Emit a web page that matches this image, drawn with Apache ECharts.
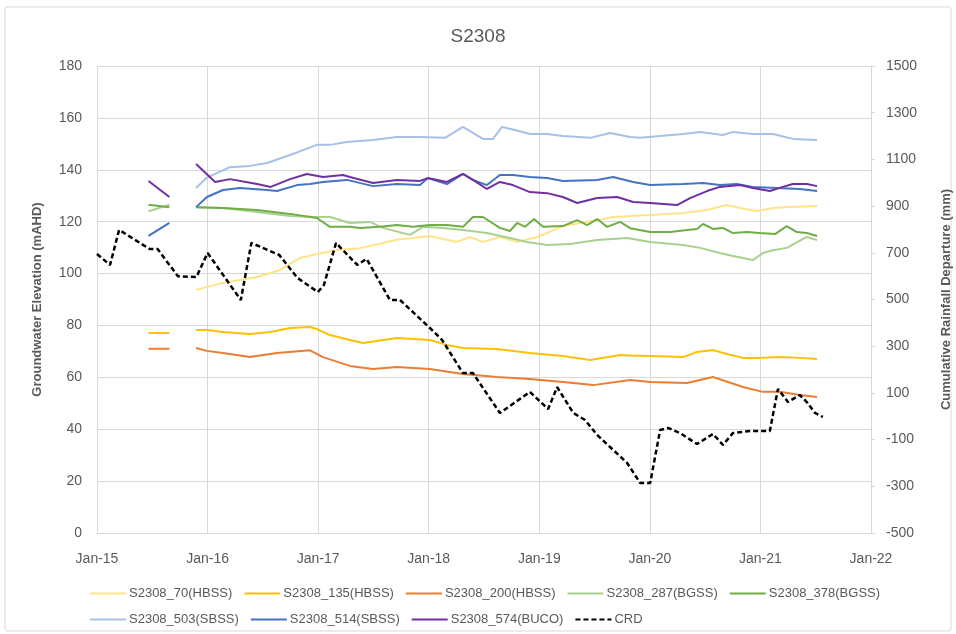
<!DOCTYPE html>
<html><head><meta charset="utf-8">
<script src="https://cdn.jsdelivr.net/npm/echarts@6/dist/echarts.min.js"></script>
<style>html,body{margin:0;padding:0;background:#fff}#c{width:956px;height:634px}</style>
</head><body><div id="c"></div>
<script>
// ---- data ----
const title = 'S2308';
const xTickYears = [2015, 2016, 2017, 2018, 2019, 2020, 2021, 2022];

const s70Dates = ['2015-11-24','2016-02-21','2016-06-13','2016-08-28','2016-11-02','2016-12-28','2017-03-04','2017-05-19','2017-07-24','2017-09-18','2018-01-05','2018-04-04','2018-05-17','2018-06-29','2018-08-24','2018-10-20','2018-12-25','2019-03-20','2019-07-11','2019-09-02','2020-01-02','2020-04-20','2020-07-08','2020-09-12','2020-10-25','2020-12-20','2021-02-11','2021-04-08','2021-07-07'];
const s70Vals = [93.7,96.4,98.7,101.4,106,107.5,109.1,109.8,111.5,113,114.5,112.2,114.1,112.2,114.1,112.2,114.1,118.3,120.6,121.8,122.6,123.3,124.5,126.4,125.3,124.1,125.3,125.7,126];

const s135Dates = ['2015-06-20','2015-08-28','2015-10-15','2015-11-24','2015-12-30','2016-02-21','2016-05-20','2016-07-28','2016-09-30','2016-12-05','2016-12-28','2017-02-09','2017-04-16','2017-05-29','2017-09-18','2018-01-05','2018-03-02','2018-04-24','2018-08-14','2018-12-01','2019-03-20','2019-06-18','2019-09-25','2019-10-28','2020-01-02','2020-04-20','2020-06-05','2020-07-28','2020-09-12','2020-11-04','2020-12-30','2021-03-06','2021-05-11','2021-07-07'];
const s135Vals = [77.1,77.1,null,78.2,78.2,77.5,76.7,77.5,79,79.4,78.6,76.3,74.4,73.2,75.2,74.4,72.5,71.3,70.9,69.4,68.2,66.7,68.6,68.4,68.2,67.8,69.8,70.5,69,67.5,67.5,67.8,67.5,67.1];

const s200Dates = ['2015-06-20','2015-08-28','2015-10-15','2015-11-24','2015-12-30','2016-02-21','2016-05-20','2016-08-18','2016-12-05','2017-01-17','2017-04-16','2017-07-01','2017-09-18','2018-01-05','2018-04-24','2018-08-14','2018-12-01','2019-03-20','2019-06-28','2019-10-28','2020-01-02','2020-05-03','2020-07-28','2020-11-04','2021-01-09','2021-03-06','2021-05-11','2021-07-07'];
const s200Vals = [71,71,null,71.3,70.2,69.4,67.8,69.4,70.4,67.8,64.4,63.2,64,63.2,61.3,60.1,59.4,58.2,57,59,58.2,57.8,60.1,56.3,54.4,54.4,53.2,52.4];

const s287Dates = ['2015-06-20','2015-08-28','2015-10-15','2015-11-24','2016-02-21','2016-06-13','2016-09-30','2016-12-28','2017-02-09','2017-04-16','2017-06-21','2017-08-03','2017-10-31','2017-12-13','2018-02-17','2018-04-24','2018-07-12','2018-09-26','2018-11-22','2019-01-27','2019-04-13','2019-07-11','2019-10-18','2020-01-02','2020-04-20','2020-06-15','2020-08-20','2020-10-02','2020-12-07','2021-01-09','2021-02-11','2021-03-29','2021-06-03','2021-07-07'];
const s287Vals = [124,126.5,null,125.6,125.3,123.7,122.2,121.8,121.8,119.5,119.9,117.6,114.9,118,117.6,116.8,115.6,113.7,112.2,111,111.4,112.9,113.7,112.2,111,109.9,107.9,106.8,105.2,107.9,109,109.9,114.1,112.9];

const s378Dates = ['2015-06-20','2015-08-28','2015-10-15','2015-11-24','2016-02-21','2016-06-13','2016-09-30','2016-12-28','2017-02-09','2017-04-16','2017-05-19','2017-07-24','2017-09-18','2017-11-10','2018-01-05','2018-03-02','2018-04-24','2018-05-27','2018-06-29','2018-08-24','2018-09-26','2018-10-20','2018-11-15','2018-12-15','2019-01-13','2019-03-20','2019-05-06','2019-06-08','2019-07-11','2019-08-13','2019-09-25','2019-10-28','2020-01-02','2020-03-08','2020-05-03','2020-06-05','2020-06-25','2020-07-28','2020-08-30','2020-10-02','2020-11-17','2020-12-30','2021-02-18','2021-03-29','2021-05-01','2021-06-03','2021-07-07'];
const s378Vals = [126.5,125.6,null,125.6,125.3,124.5,123,121.4,118,118,117.6,118,118.7,118,118.7,118.7,118,121.8,121.8,117.6,116.4,119.5,118,121,118,118.3,120.6,118.7,121,118,119.9,117.5,116,116,116.8,117.2,119.1,117.2,117.6,115.6,116,115.6,115.2,118.3,116,115.6,114.5];

const s503Dates = ['2015-11-24','2015-12-30','2016-03-15','2016-05-20','2016-07-16','2016-09-30','2016-12-28','2017-02-09','2017-04-06','2017-07-01','2017-09-18','2017-12-03','2018-02-24','2018-04-24','2018-06-29','2018-08-01','2018-08-31','2018-10-13','2018-12-01','2019-01-27','2019-03-20','2019-06-18','2019-08-23','2019-10-28','2019-11-30','2020-02-04','2020-04-20','2020-06-15','2020-08-30','2020-10-02','2020-12-07','2021-02-11','2021-04-18','2021-07-07'];
const s503Vals = [133,137,141,141.5,142.6,145.7,149.6,149.6,150.7,151.5,152.6,152.6,152.3,156.5,151.9,151.9,156.5,155.3,153.8,153.8,153,152.3,154.2,152.6,152.3,153,153.8,154.6,153.4,154.6,153.8,153.8,151.9,151.5];

const s514Dates = ['2015-06-20','2015-08-28','2015-10-15','2015-11-24','2015-12-30','2016-02-21','2016-04-17','2016-07-16','2016-08-18','2016-10-23','2016-12-05','2017-01-17','2017-04-06','2017-07-01','2017-09-18','2017-12-03','2017-12-29','2018-03-02','2018-04-24','2018-05-27','2018-07-12','2018-08-24','2018-10-06','2018-12-01','2019-01-27','2019-03-20','2019-07-11','2019-09-02','2019-11-07','2020-01-02','2020-04-20','2020-06-25','2020-08-20','2020-10-15','2020-12-07','2021-02-24','2021-05-11','2021-07-07'];
const s514Vals = [114.5,119.5,null,125.6,129.5,132.2,133,132.2,131.8,134.1,134.5,135.3,136.1,133.7,134.5,134.1,136.8,134.5,138.4,136.1,134.1,138,138,137.2,136.8,135.7,136.1,137.2,135.3,134.1,134.5,134.9,134.1,134.5,133.4,133,132.6,131.8];

const s574Dates = ['2015-06-20','2015-08-28','2015-10-15','2015-11-24','2016-01-26','2016-03-15','2016-06-13','2016-07-28','2016-09-30','2016-11-25','2017-01-17','2017-03-24','2017-04-16','2017-07-01','2017-09-18','2017-12-03','2017-12-29','2018-03-02','2018-04-24','2018-05-27','2018-07-12','2018-08-24','2018-10-06','2018-12-01','2019-01-27','2019-03-20','2019-05-06','2019-07-11','2019-09-15','2019-11-07','2020-01-02','2020-03-31','2020-05-13','2020-07-08','2020-08-20','2020-10-25','2020-12-07','2021-02-01','2021-03-16','2021-04-18','2021-06-03','2021-07-07'];
const s574Vals = [135.7,129.5,null,142.2,135.3,136.4,134.5,133.4,136.4,138.4,137.2,138,137.2,134.9,136.1,135.7,136.8,135.3,138.4,136.1,132.6,135.3,134.1,131.4,131,129.5,127.2,129.1,129.5,127.6,127.2,126.4,129.1,131.8,133.4,134.1,133,131.8,133.4,134.5,134.5,133.7];

const crdDates = ['2015-01-01','2015-02-13','2015-03-15','2015-06-24','2015-07-20','2015-09-25','2015-11-25','2016-01-01','2016-04-20','2016-05-25','2016-08-25','2016-10-25','2016-12-31','2017-01-20','2017-03-01','2017-05-10','2017-06-10','2017-08-26','2017-09-28','2018-01-05','2018-02-14','2018-04-24','2018-05-27','2018-08-24','2018-12-01','2019-01-30','2019-03-01','2019-04-23','2019-06-01','2019-07-11','2019-10-18','2019-11-30','2020-01-02','2020-02-04','2020-03-01','2020-04-10','2020-06-05','2020-07-28','2020-08-30','2020-10-02','2020-11-27','2021-02-01','2021-02-28','2021-04-02','2021-05-11','2021-06-03','2021-06-30','2021-07-26'];
const crdVals = [695,648,798,716,716,600,596,699,498,742,691,592,532,562,742,648,674,498,498,378,327,185,185,14,104,31,125,14,-16,-80,-200,-286,-286,-59,-50,-72,-119,-76,-123,-72,-63,-63,117,61,91,61,14,-3];

const leftTicks = {min: 0, max: 180, step: 20};
const rightTicks = {min: -500, max: 1500, step: 200};

// ---- helpers ----
function toYear(s) {
  const [y, m, d] = s.split('-').map(Number);
  const t = Date.UTC(y, m - 1, d), a = Date.UTC(y, 0, 1), b = Date.UTC(y + 1, 0, 1);
  return y + (t - a) / (b - a);
}
function pairs(dates, vals) {
  return dates.map((d, i) => [toYear(d), vals[i] === null ? '-' : vals[i]]);
}

const FONT = 'Liberation Sans';
const TXT = '#595959';
const GRID = '#d9d9d9';
const SOLID_ICON = 'path://M0,0H36V2H0Z';
const DASH_ICON = 'path://M0,0H5V2H0Z M8,0H13V2H8Z M16,0H21V2H16Z M24,0H29V2H24Z M32,0H36V2H32Z';

function mk(name, dates, vals, color, opts) {
  return Object.assign({
    name, type: 'line', data: pairs(dates, vals), showSymbol: false, symbol: 'none',
    connectNulls: false, smooth: false, yAxisIndex: 0,
    lineStyle: {color, width: 2}, itemStyle: {color}, emphasis: {disabled: true}, z: 3
  }, opts || {});
}

const series = [
  mk('S2308_70(HBSS)', s70Dates, s70Vals, '#FFE38A'),
  mk('S2308_135(HBSS)', s135Dates, s135Vals, '#FFC000'),
  mk('S2308_200(HBSS)', s200Dates, s200Vals, '#ED7D31'),
  mk('S2308_287(BGSS)', s287Dates, s287Vals, '#A9D18E'),
  mk('S2308_378(BGSS)', s378Dates, s378Vals, '#70AD47'),
  mk('S2308_503(SBSS)', s503Dates, s503Vals, '#A7C1E6'),
  mk('S2308_514(SBSS)', s514Dates, s514Vals, '#4472C4'),
  mk('S2308_574(BUCO)', s574Dates, s574Vals, '#7030A0'),
  {
    name: 'CRD', type: 'line', data: pairs(crdDates, crdVals), yAxisIndex: 1,
    showSymbol: false, symbol: 'none', smooth: false,
    lineStyle: {color: '#000', width: 2.5, type: [5, 3]}, itemStyle: {color: '#000'},
    emphasis: {disabled: true}, z: 4
  }
];

const legendText = {fontFamily: FONT, fontSize: 13, color: TXT, padding: [0, 0, 0, -2]};
function legendData(list) {
  return list.map(s => ({name: s.name, icon: s.name === 'CRD' ? DASH_ICON : SOLID_ICON}));
}
const legendBase = {left: 85, itemWidth: 36, itemHeight: 2, itemGap: 12, textStyle: legendText,
  selectedMode: false};

const chart = echarts.init(document.getElementById('c'), null, {renderer: 'canvas'});
chart.setOption({
  animation: false,
  backgroundColor: '#fff',
  title: {text: title, left: 'center', top: 22,
    textStyle: {fontFamily: FONT, fontSize: 19, fontWeight: 'normal', color: TXT}},
  graphic: [{type: 'rect', shape: {x: 5, y: 7, width: 946, height: 624, r: 2},
    style: {fill: 'none', stroke: GRID, lineWidth: 1}, silent: true, z: -1}],
  grid: {left: 97, right: 85, top: 66, bottom: 101, containLabel: false, outerBoundsMode: 'none'},
  legend: [
    Object.assign({}, legendBase, {data: legendData(series.slice(0, 5)), top: 582}),
    Object.assign({}, legendBase, {data: legendData(series.slice(5)), top: 608})
  ],
  xAxis: {
    type: 'value', min: xTickYears[0], max: xTickYears[xTickYears.length - 1], interval: 1,
    axisLine: {show: true, lineStyle: {color: GRID}},
    axisTick: {show: false},
    splitLine: {show: true, lineStyle: {color: GRID}},
    axisLabel: {fontFamily: FONT, fontSize: 14, color: TXT, margin: 19,
      formatter: v => 'Jan-' + String(Math.round(v)).slice(2)}
  },
  yAxis: [
    {type: 'value', min: leftTicks.min, max: leftTicks.max, interval: leftTicks.step,
      name: 'Groundwater Elevation (mAHD)', nameLocation: 'middle', nameGap: 53, nameRotate: 90,
      nameTextStyle: {fontFamily: FONT, fontSize: 13, fontWeight: 'bold', color: TXT},
      axisLine: {show: false}, axisTick: {show: false},
      splitLine: {show: true, lineStyle: {color: GRID}},
      axisLabel: {fontFamily: FONT, fontSize: 14, color: TXT, margin: 15}},
    {type: 'value', min: rightTicks.min, max: rightTicks.max, interval: rightTicks.step, position: 'right',
      name: 'Cumulative Rainfall Departure (mm)', nameLocation: 'middle', nameGap: 69, nameRotate: 90,
      nameTextStyle: {fontFamily: FONT, fontSize: 13, fontWeight: 'bold', color: TXT},
      axisLine: {show: true, lineStyle: {color: GRID}},
      axisTick: {show: true, length: 4, lineStyle: {color: GRID}},
      splitLine: {show: false},
      axisLabel: {fontFamily: FONT, fontSize: 14, color: TXT, margin: 15, formatter: v => String(v)}}
  ],
  series
});
</script></body></html>
